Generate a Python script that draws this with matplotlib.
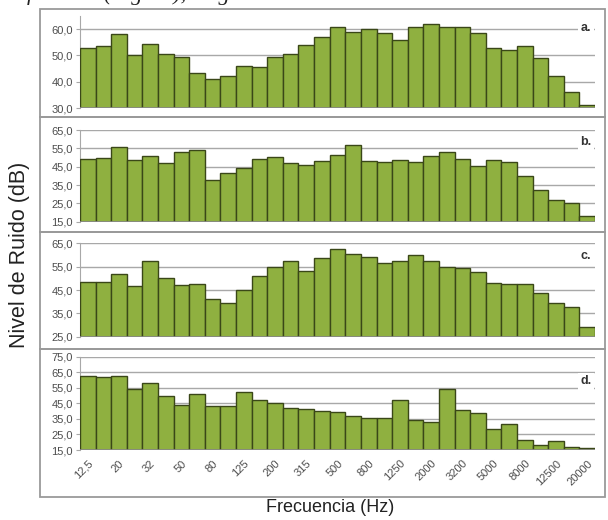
import matplotlib.pyplot as plt
from matplotlib.patches import Rectangle
import numpy as np

# 1/3 octave bands, 12.5 Hz .. 20 kHz
freqs = ['12,5', '16', '20', '25', '32', '40', '50', '63', '80', '100', '125',
         '160', '200', '250', '315', '400', '500', '630', '800', '1000', '1250',
         '1600', '2000', '2500', '3200', '4000', '5000', '6300', '8000', '10000',
         '12500', '16000', '20000']

level_a = [53, 53.5, 58, 50, 54.5, 50.5, 49.5, 43.5, 41, 42, 46, 45.5, 49.5,
           50.5, 54, 57, 61, 59, 60, 58.5, 56, 61, 62, 61, 61, 58.5, 53, 52,
           53.5, 49, 42, 36, 31]
level_b = [49, 50, 56, 48.5, 51, 47, 53, 54, 38, 41.5, 44.5, 49, 50.5, 47, 46,
           48, 51.5, 57, 48, 47.5, 48.5, 47.5, 51, 53, 49, 45.5, 48.5, 47.5,
           40, 32.5, 27, 25, 18]
level_c = [48.6, 48.6, 51.7, 46.7, 57.4, 50, 47.1, 47.4, 41.1, 39.3, 45, 51.1,
           55, 57.6, 53.3, 58.9, 62.4, 60.3, 59.1, 56.7, 57.6, 60.1, 57.4, 55,
           54.3, 52.9, 47.9, 47.4, 47.4, 43.6, 39.3, 37.7, 29]
level_d = [62.4, 61.8, 62.9, 54.4, 58.2, 50, 44.2, 50.7, 43.3, 43.3, 52.6,
           47.1, 45, 42, 41.4, 40.3, 39.7, 37.1, 35.6, 35.6, 47.1, 34.6, 32.9,
           54, 41, 38.8, 28.6, 31.8, 21.5, 18.3, 21, 17.1, 16.5]

panel_labels = ['a.', 'b.', 'c.', 'd.']
y_ticks = [
    [30, 40, 50, 60],
    [15, 25, 35, 45, 55, 65],
    [25, 35, 45, 55, 65],
    [15, 25, 35, 45, 55, 65, 75],
]
y_lims = [(30, 65), (15, 65), (25, 65), (15, 75)]

BAR_COLOR = '#8fb040'
EDGE_COLOR = '#3a4718'
GRID_COLOR = '#a8a8a8'
TICK_COLOR = '#4d4d4d'

W, H = 608, 520
# axes rectangles in pixels: (left, top, right, bottom)
AX_PX = [(80, 16, 595, 108), (80, 130, 595, 221.7),
         (80, 243.3, 595, 336.7), (80, 356.7, 595, 450)]
# panel frames in pixels: (top, bottom)
BOX_PX = [(9, 117), (117, 232), (232, 349), (349, 497)]

plt.rcParams['font.family'] = ['Liberation Sans', 'DejaVu Sans']

fig = plt.figure(figsize=(W / 100, H / 100), dpi=100)

# cropped line of body text at the very top of the page
fig.text(0.5, 1.0 + 5 / H, 'ficación (Figura), en general se observan resultados similares',
         ha='center', va='center', fontsize=16, family='Liberation Serif',
         style='italic', color='#222222')

for top, bottom in BOX_PX:
    fig.patches.append(Rectangle((40 / W, 1 - bottom / H), 565 / W, (bottom - top) / H,
                                 transform=fig.transFigure, fill=False,
                                 edgecolor='#9a9a9a', linewidth=1.3, zorder=0))

data = [level_a, level_b, level_c, level_d]
x = np.arange(len(freqs))

for i, vals in enumerate(data):
    l, t, r, b = AX_PX[i]
    ax = fig.add_axes([l / W, 1 - b / H, (r - l) / W, (b - t) / H])
    lo, hi = y_lims[i]
    ax.bar(x, np.array(vals) - lo, bottom=lo, width=1.0, color=BAR_COLOR,
           edgecolor=EDGE_COLOR, linewidth=1.0, zorder=3)
    ax.set_xlim(-0.5, len(freqs) - 0.5)
    ax.set_ylim(lo, hi)
    ax.set_yticks(y_ticks[i])
    ax.set_yticklabels([f'{v:.1f}'.replace('.', ',') for v in y_ticks[i]])
    ax.yaxis.grid(True, color=GRID_COLOR, linewidth=1.0, zorder=0)
    ax.set_axisbelow(True)
    for side in ('top', 'right', 'bottom'):
        ax.spines[side].set_visible(False)
    ax.spines['left'].set_color(GRID_COLOR)
    ax.tick_params(axis='y', colors=GRID_COLOR, labelcolor=TICK_COLOR,
                   labelsize=8, length=3, pad=2)
    ax.axhline(lo, color='#8a8a8a', linewidth=1.2, zorder=4)
    ax.text(0.993, 0.93 if i != 3 else 0.8, panel_labels[i], transform=ax.transAxes,
            ha='right', va='top', fontsize=9, fontweight='bold', color='#333333',
            bbox=dict(facecolor='white', edgecolor='none', pad=2), zorder=5)
    if i == 3:
        ax.set_xticks(x[::2])
        ax.set_xticklabels(freqs[::2], rotation=45, ha='right', va='top',
                           rotation_mode='anchor')
        ax.tick_params(axis='x', length=0, labelsize=8, labelcolor=TICK_COLOR, pad=6)
    else:
        ax.set_xticks([])

fig.text(330 / W, 1 - 508 / H, 'Frecuencia (Hz)', ha='center', va='center',
         fontsize=13, color='#222222')
fig.text(20 / W, 1 - 255 / H, 'Nivel de Ruido (dB)', ha='center', va='center',
         rotation=90, fontsize=15.5, color='#222222')

fig.savefig('out.png', dpi=100)
